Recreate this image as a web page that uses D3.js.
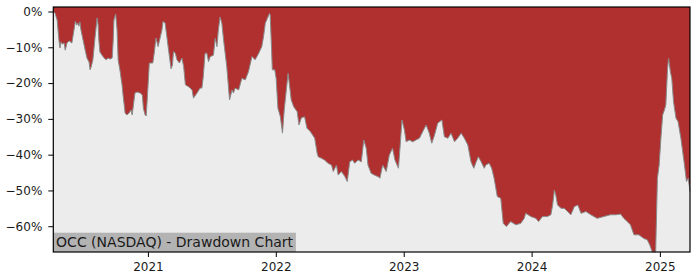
<!DOCTYPE html>
<html><head><meta charset="utf-8">
<script src="https://cdn.jsdelivr.net/npm/d3@7"></script>
<style>body{margin:0;background:#fff}svg{display:block}</style>
</head><body><svg id="c" width="700" height="280"></svg>
<script>
const dates = [
"2020-04-06","2020-04-11","2020-04-17","2020-04-22","2020-04-25","2020-04-28","2020-05-01","2020-05-07","2020-05-10","2020-05-15","2020-05-21","2020-05-29",
"2020-06-04","2020-06-08","2020-06-12","2020-06-15","2020-06-18","2020-06-21","2020-06-24","2020-06-30","2020-07-06","2020-07-11","2020-07-17","2020-07-20",
"2020-07-23","2020-07-28","2020-08-03","2020-08-09","2020-08-12","2020-08-14","2020-08-17","2020-08-23","2020-08-29","2020-09-04","2020-09-09","2020-09-15",
"2020-09-21","2020-09-24","2020-09-26","2020-10-01","2020-10-05","2020-10-08","2020-10-14","2020-10-17","2020-10-19","2020-10-22","2020-10-28","2020-11-02",
"2020-11-08","2020-11-14","2020-11-17","2020-11-25","2020-12-01","2020-12-10","2020-12-16","2020-12-19","2020-12-24","2020-12-27","2020-12-30",
"2021-01-05","2021-01-15","2021-01-19","2021-01-24","2021-01-30","2021-02-10","2021-02-13","2021-02-19","2021-02-24","2021-03-01","2021-03-08","2021-03-12",
"2021-03-15","2021-03-20","2021-03-25","2021-04-01","2021-04-08","2021-04-13","2021-04-18","2021-04-27","2021-05-07","2021-05-11","2021-05-21","2021-05-30",
"2021-06-04","2021-06-08","2021-06-13","2021-06-18","2021-06-23","2021-06-28","2021-07-07","2021-07-12","2021-07-17","2021-07-21","2021-07-26","2021-07-31",
"2021-08-05","2021-08-14","2021-08-22","2021-08-29","2021-09-02","2021-09-07","2021-09-17","2021-09-26","2021-10-06","2021-10-15","2021-10-25","2021-11-03",
"2021-11-13","2021-11-22","2021-11-27","2021-12-02","2021-12-08","2021-12-14","2021-12-16","2021-12-20","2021-12-22","2021-12-29",
"2022-01-02","2022-01-07","2022-01-14","2022-01-20","2022-01-25","2022-01-31","2022-02-05","2022-02-09","2022-02-14","2022-02-21","2022-03-03","2022-03-08",
"2022-03-15","2022-03-24","2022-03-31","2022-04-10","2022-04-22","2022-04-29","2022-05-02","2022-05-11","2022-05-20","2022-05-30","2022-06-09","2022-06-14",
"2022-06-23","2022-06-28","2022-07-07","2022-07-17","2022-07-24","2022-07-31","2022-08-08","2022-08-14","2022-08-24","2022-09-02","2022-09-09","2022-09-16",
"2022-09-21","2022-09-30","2022-10-09","2022-10-21","2022-10-25","2022-11-02","2022-11-12","2022-11-21","2022-11-30","2022-12-07","2022-12-17","2022-12-22",
"2022-12-27",
"2023-01-03","2023-01-08","2023-01-17","2023-01-27","2023-02-05","2023-02-15","2023-02-24","2023-03-06","2023-03-15","2023-03-22","2023-03-30","2023-04-08",
"2023-04-20","2023-04-27","2023-05-07","2023-05-16","2023-05-26","2023-06-04","2023-06-14","2023-06-23","2023-07-03","2023-07-12","2023-07-20","2023-07-27",
"2023-08-02","2023-08-10","2023-08-19","2023-08-23","2023-09-02","2023-09-09","2023-09-16","2023-09-25","2023-10-05","2023-10-12","2023-10-21","2023-11-02",
"2023-11-17","2023-12-01","2023-12-11","2023-12-15","2023-12-30",
"2024-01-13","2024-01-21","2024-02-01","2024-02-15","2024-02-25","2024-03-01","2024-03-06","2024-03-10","2024-03-15","2024-03-25","2024-04-03","2024-04-13",
"2024-04-22","2024-05-02","2024-05-12","2024-05-21","2024-06-04","2024-06-18","2024-07-06","2024-07-25","2024-08-13","2024-08-28","2024-09-11","2024-09-20",
"2024-09-30","2024-10-09","2024-10-19","2024-11-02","2024-11-16","2024-11-26","2024-12-03","2024-12-10","2024-12-20","2024-12-25","2024-12-30",
"2025-01-04","2025-01-09","2025-01-14","2025-01-18","2025-01-23","2025-01-26","2025-01-31","2025-02-04","2025-02-09","2025-02-16","2025-02-22","2025-03-02",
"2025-03-11","2025-03-18","2025-03-23","2025-03-28"
];
const drawdown = [
0,-0.5,-2.4,-8.0,-10.2,-8.5,-9.1,-8.8,-10.8,-8.8,-8.2,-8.8,
-5.2,-2.7,-3.8,-3.2,-4.1,-2.9,-5.2,-8.0,-10.8,-13.0,-14.1,-16.3,
-15.5,-13.5,-7.4,-1.8,-3.8,-8.0,-11.3,-12.2,-13.0,-13.5,-13.0,-13.3,
-13.0,-8.0,-2.4,-0.7,-5.2,-13.5,-16.9,-19.1,-20.3,-23.3,-28.4,-28.9,
-28.4,-27.5,-28.9,-22.8,-22.5,-22.8,-23.3,-27.0,-28.9,-29.2,-24.7,
-14.4,-14.4,-11.6,-7.4,-9.8,-5.2,-2.8,-3.2,-7.0,-10.8,-16.0,-15.0,
-11.2,-11.6,-13.5,-14.4,-13.0,-15.4,-20.5,-21.0,-21.9,-24.2,-22.8,-21.4,
-21.4,-18.2,-11.7,-11.6,-14.0,-12.6,-12.2,-7.5,-9.8,-5.2,-1.5,-3.3,
-8.0,-15.4,-24.7,-21.9,-22.8,-21.4,-21.9,-18.7,-19.1,-16.8,-12.6,-13.5,
-11.7,-9.8,-7.0,-3.3,-1.9,-0.5,-1.0,-10.8,-16.3,-16.3,
-18.7,-27.0,-29.4,-34.0,-27.5,-21.9,-17.3,-20.5,-24.7,-26.6,-28.0,-31.7,
-29.7,-29.4,-32.6,-33.6,-35.4,-39.6,-40.6,-41.0,-41.5,-42.4,-42.9,-44.7,
-42.9,-45.7,-44.7,-46.1,-47.5,-42.0,-41.5,-42.4,-41.5,-42.0,-35.9,-38.2,
-42.9,-45.2,-45.7,-46.2,-46.6,-42.9,-44.7,-40.1,-38.2,-41.5,-43.8,-37.3,
-30.3,
-33.1,-36.4,-35.9,-36.4,-35.9,-35.4,-33.6,-31.7,-34.0,-36.8,-34.5,-31.2,
-30.3,-35.0,-35.4,-34.0,-36.4,-35.4,-34.0,-35.4,-37.3,-42.0,-43.8,-42.0,
-40.6,-42.0,-43.8,-42.9,-42.4,-43.8,-46.6,-51.7,-52.2,-59.2,-60.1,-58.7,
-59.6,-59.2,-57.8,-56.4,-57.3,
-57.8,-58.7,-57.3,-57.3,-56.8,-54.1,-49.9,-51.3,-54.1,-55.0,-55.0,-55.9,
-56.8,-54.5,-54.1,-56.4,-55.9,-56.8,-57.8,-57.3,-56.8,-56.8,-56.6,-57.8,
-58.7,-59.6,-62.4,-62.4,-63.4,-63.8,-65.2,-67.1,-67.2,-46.6,-42.9,
-35.4,-28.9,-27.5,-26.1,-15.9,-13.1,-16.8,-18.7,-25.2,-29.8,-30.8,-35.4,
-42.0,-47.5,-46.6,-50.3
];
const yTickValues = [0,-10,-20,-30,-40,-50,-60];
const xTickYears = [2021,2022,2023,2024,2025];
const yLimits = [-67.2, 1.26];
const chartTitle = "OCC (NASDAQ) - Drawdown Chart";

const parse = d3.timeParse("%Y-%m-%d");
const data = dates.map((d,i)=>({date:parse(d), v:drawdown[i]}));

const L=53.3, R=690, T=7, B=252;
const svg = d3.select("#c");
const x = d3.scaleTime().domain(d3.extent(data,d=>d.date)).range([L,R]);
const y = d3.scaleLinear().domain(yLimits).range([B,T]);

svg.append("rect").attr("x",L).attr("y",T).attr("width",R-L).attr("height",B-T).attr("fill","#b03030");
const area = d3.area().x(d=>x(d.date)).y0(B).y1(d=>Math.min(B,y(d.v)));
svg.append("path").datum(data).attr("d",area).attr("fill","#ececec");
const line = d3.line().x(d=>x(d.date)).y(d=>Math.min(B,y(d.v)));
svg.append("path").datum(data).attr("d",line).attr("fill","none").attr("stroke","#8a8a8a").attr("stroke-width",1);

// label box
const lbl = svg.append("g");
const lrect = lbl.append("rect").attr("x",L).attr("y",B-19.3).attr("height",19.3).attr("fill","#b3b3b3");
const ltext = lbl.append("text").attr("x",L+2.8).attr("y",B-4.7).attr("font-family","DejaVu Sans").attr("font-size",14).attr("fill","#1a1a1a").text(chartTitle);
lrect.attr("width", ltext.node().getComputedTextLength()+5.6);

// frame
svg.append("rect").attr("x",L).attr("y",T).attr("width",R-L).attr("height",B-T).attr("fill","none").attr("stroke","#000").attr("stroke-width",1.2);

const fmt = d => (d<0?"\u2212":"")+Math.abs(d)+"%";
const ya = svg.append("g").attr("transform",`translate(${L},0)`)
  .call(d3.axisLeft(y).tickValues(yTickValues).tickFormat(fmt).tickSize(5).tickPadding(6));
const xa = svg.append("g").attr("transform",`translate(0,${B})`)
  .call(d3.axisBottom(x).tickValues(xTickYears.map(yr=>new Date(yr,0,1))).tickFormat(d3.timeFormat("%Y")).tickSize(5).tickPadding(5.5));
[ya,xa].forEach(g=>{
  g.select(".domain").remove();
  g.selectAll("line").attr("stroke","#000").attr("stroke-width",1);
  g.selectAll("text").attr("font-family","DejaVu Sans").attr("font-size",12).attr("fill","#1a1a1a");
});
</script>
</body></html>
